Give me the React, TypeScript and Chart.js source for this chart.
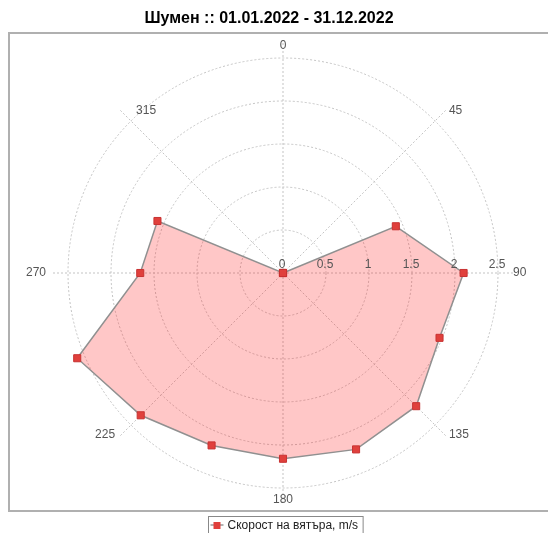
import { useEffect, useRef } from "react";
import { Chart, registerables } from "chart.js";

Chart.register(...registerables);

const TITLE = "Шумен :: 01.01.2022 - 31.12.2022";
const SERIES_LABEL = "Скорост на вятъра, m/s";
const DIRECTIONS = [0, 22.5, 45, 67.5, 90, 112.5, 135, 157.5, 180, 202.5, 225, 247.5, 270, 292.5, 315, 337.5];
const SPEEDS = [0, 0, 0, 1.42, 2.1, 1.97, 2.19, 2.22, 2.16, 2.17, 2.34, 2.59, 1.66, 1.58, 0, 0];
const RING_TICKS = [0, 0.5, 1, 1.5, 2, 2.5];
const RING_TICK_LABELS = ["0", "0.5", "1", "1.5", "2", "2.5"];
const ANGLE_LABEL_STEP = 45;

const LABEL_FONT = '12px "Liberation Sans", Arial, sans-serif';
const GRID_COLOR = "#c4c4c4";
// horizontal text nudges (px) for angle labels, styling only
const LABEL_NUDGE: Record<string, number> = { "315": 39, "270": -7, "225": -2 };

const decorPlugin = {
  id: "decor",
  beforeDatasetsDraw(chart: any) {
    const s = chart.scales.r;
    const ctx = chart.ctx;
    const cx = s.xCenter;
    const cy = s.yCenter;
    ctx.save();
    ctx.strokeStyle = GRID_COLOR;
    ctx.lineWidth = 1;
    ctx.setLineDash([2, 2]);
    RING_TICKS.forEach((v) => {
      if (v <= 0) return;
      const r = s.getDistanceFromCenterForValue(v);
      ctx.beginPath();
      ctx.arc(cx, cy, r, 0, Math.PI * 2);
      ctx.stroke();
    });
    DIRECTIONS.forEach((d, i) => {
      if (d % ANGLE_LABEL_STEP !== 0) return;
      const p = s.getPointPosition(i, s.drawingArea + 15);
      ctx.beginPath();
      ctx.moveTo(cx, cy);
      ctx.lineTo(p.x, p.y);
      ctx.stroke();
    });
    ctx.restore();
  },
  afterDatasetsDraw(chart: any) {
    const s = chart.scales.r;
    const ctx = chart.ctx;
    const cx = s.xCenter;
    const cy = s.yCenter;
    ctx.save();
    ctx.font = LABEL_FONT;
    ctx.fillStyle = "#555";
    // radial tick labels along the 90° axis
    ctx.textAlign = "center";
    ctx.textBaseline = "bottom";
    RING_TICKS.forEach((v, i) => {
      const r = s.getDistanceFromCenterForValue(v);
      ctx.fillText(RING_TICK_LABELS[i], cx + r - 1, cy - 2);
    });
    // angle labels
    ctx.textBaseline = "middle";
    DIRECTIONS.forEach((d, i) => {
      if (d % ANGLE_LABEL_STEP !== 0) return;
      const text = String(d);
      const a = (d * Math.PI) / 180;
      const sn = Math.sin(a);
      const cs = Math.cos(a);
      const p = s.getPointPosition(i, s.drawingArea + 14);
      let x = p.x;
      let y = p.y;
      if (sn > 0.01) {
        ctx.textAlign = "left";
        x += Math.abs(cs) > 0.01 ? 4 : 1;
      } else if (sn < -0.01) {
        ctx.textAlign = "right";
        x -= Math.abs(cs) > 0.01 ? 4 : 1;
      } else {
        ctx.textAlign = "center";
        y += cs > 0 ? 2 : -2;
      }
      x += LABEL_NUDGE[text] || 0;
      ctx.fillText(text, x, y);
    });
    ctx.restore();
  },
  afterDraw(chart: any) {
    const ctx = chart.ctx;
    ctx.save();
    // plot border
    ctx.strokeStyle = "#b0b0b0";
    ctx.lineWidth = 2;
    ctx.beginPath();
    ctx.moveTo(560, 33);
    ctx.lineTo(9, 33);
    ctx.lineTo(9, 511);
    ctx.lineTo(560, 511);
    ctx.stroke();
    // title
    ctx.fillStyle = "#000";
    ctx.font = 'bold 16px "Liberation Sans", Arial, sans-serif';
    ctx.textAlign = "center";
    ctx.textBaseline = "middle";
    ctx.fillText(TITLE, 269, 19);
    // legend
    const ds = chart.data.datasets[0];
    ctx.font = LABEL_FONT;
    const tw = ctx.measureText(ds.label).width;
    const bx = 208.5;
    const by = 516.5;
    const bw = tw + 24;
    ctx.strokeStyle = "#888";
    ctx.lineWidth = 1;
    ctx.strokeRect(bx, by, bw, 30);
    ctx.strokeStyle = "#999";
    ctx.lineWidth = 1.5;
    ctx.beginPath();
    ctx.moveTo(bx + 2, 525);
    ctx.lineTo(bx + 15, 525);
    ctx.stroke();
    ctx.fillStyle = ds.pointBackgroundColor;
    ctx.fillRect(bx + 5, 522, 7, 7);
    ctx.fillStyle = "#222";
    ctx.textAlign = "left";
    ctx.textBaseline = "middle";
    ctx.fillText(ds.label, bx + 19, 525.5);
    ctx.restore();
  },
};

export default function App() {
  const ref = useRef<HTMLCanvasElement | null>(null);
  useEffect(() => {
    if (!ref.current) return;
    const chart = new Chart(ref.current, {
      type: "radar",
      data: {
        labels: DIRECTIONS.map(String),
        datasets: [
          {
            label: SERIES_LABEL,
            data: SPEEDS,
            backgroundColor: "rgba(255,0,0,0.22)",
            borderColor: "#909090",
            borderWidth: 1.5,
            fill: true,
            pointStyle: "rect",
            pointRadius: 5,
            pointBackgroundColor: "#e0403c",
            pointBorderColor: "#c83232",
            pointBorderWidth: 1,
            clip: false,
          } as any,
        ],
      },
      options: {
        animation: false,
        responsive: false,
        layout: { padding: { left: 68, right: 50, top: 58, bottom: 45 } },
        plugins: {
          legend: { display: false },
          title: { display: false },
          tooltip: { enabled: false },
        },
        scales: {
          r: {
            min: 0,
            max: 2.5,
            ticks: { display: false, stepSize: 0.5 },
            grid: { display: false },
            angleLines: { display: false },
            pointLabels: { display: false },
          },
        },
      },
      plugins: [decorPlugin],
    });
    return () => chart.destroy();
  }, []);
  return (
    <div style={{ position: "fixed", left: 0, top: 0, width: 548, height: 533, background: "#fff" }}>
      <canvas ref={ref} width={548} height={533} style={{ width: 548, height: 533, display: "block" }} />
    </div>
  );
}
